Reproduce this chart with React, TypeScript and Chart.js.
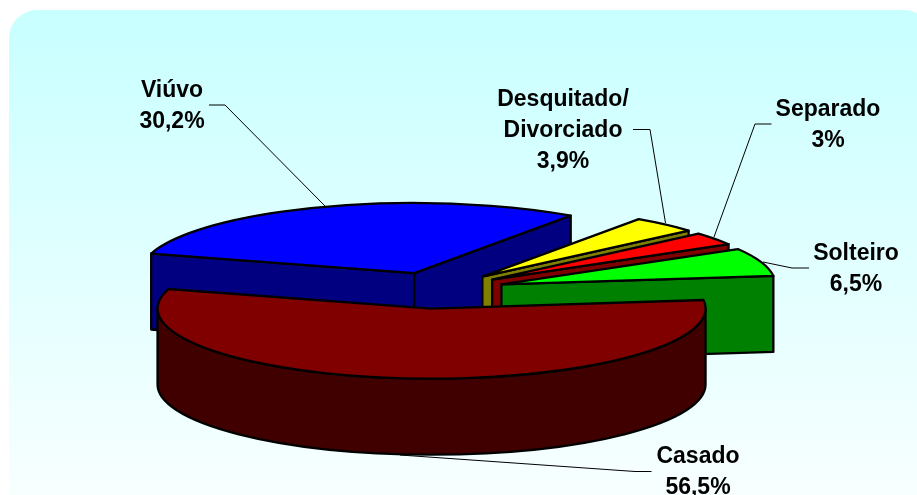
import React, { useEffect, useRef } from "react";
import { Chart, registerables } from "chart.js";

Chart.register(...registerables);

const categories = ["Casado", "Viúvo", "Desquitado/Divorciado", "Separado", "Solteiro"];
const shares = [56.5, 30.2, 3.9, 3, 6.5];
const topColors = ["#800000", "#0000ff", "#ffff00", "#ff0000", "#00ff00"];
const sideColors = ["#400000", "#000080", "#808000", "#800000", "#008000"];
const paintOrder = [1, 2, 3, 4, 0];

// Layout of the callouts, matched by category index
const labelCenters = [698, 172, 563, 828, 856];
const labelBaselines = [463, 97, 105.7, 115.7, 260];
const leaderPaths: number[][][] = [
  [[651.5, 471.5], [635, 471.5], [400, 455]],
  [[209, 105], [225, 105], [325, 206]],
  [[633, 129.5], [650, 129.5], [665.5, 223]],
  [[771.5, 124], [755, 124], [714, 237]],
  [[809, 268], [792, 268], [763, 262]],
];

const TILT = 0.2555;
const DEPTH = 76;
const EXPLODE_X = 68;
const EXPLODE_Y = 18.3;
const LINE_HEIGHT = 31;
const FONT = "bold 23px 'Liberation Sans', Arial, sans-serif";

const panelPlugin = {
  id: "panel",
  beforeDraw(chart: any) {
    const ctx = chart.ctx;
    const g = ctx.createLinearGradient(0, 10, 0, 495);
    g.addColorStop(0, "#c8ffff");
    g.addColorStop(1, "#f8ffff");
    ctx.save();
    ctx.fillStyle = g;
    ctx.beginPath();
    ctx.roundRect(9, 10, 923, 540, 28);
    ctx.fill();
    ctx.restore();
  },
};

const pie3dPlugin = {
  id: "pie3d",
  beforeDatasetDraw(chart: any) {
    const ctx: CanvasRenderingContext2D = chart.ctx;
    const meta = chart.getDatasetMeta(0);
    ctx.save();
    ctx.lineWidth = 2.3;
    ctx.lineJoin = "round";
    ctx.strokeStyle = "#000";
    for (const i of paintOrder) {
      const arc = meta.data[i];
      const a1: number = arc.startAngle;
      const a2: number = arc.endAngle;
      const r: number = arc.outerRadius;
      const mid = (a1 + a2) / 2;
      const cx = arc.x + Math.cos(mid) * EXPLODE_X;
      const cy = arc.y + Math.sin(mid) * EXPLODE_Y;
      const px = (a: number) => cx + r * Math.cos(a);
      const py = (a: number) => cy + r * TILT * Math.sin(a);
      ctx.fillStyle = sideColors[i];

      const cutFace = (a: number) => {
        ctx.beginPath();
        ctx.moveTo(cx, cy);
        ctx.lineTo(px(a), py(a));
        ctx.lineTo(px(a), py(a) + DEPTH);
        ctx.lineTo(cx, cy + DEPTH);
        ctx.closePath();
        ctx.fill();
        ctx.stroke();
      };
      if (Math.cos(a1) < 0) cutFace(a1);
      if (Math.cos(a2) > 0) cutFace(a2);

      const lo = Math.max(a1, 0);
      const hi = Math.min(a2, Math.PI);
      if (hi > lo) {
        ctx.beginPath();
        ctx.ellipse(cx, cy, r, r * TILT, 0, lo, hi);
        ctx.ellipse(cx, cy + DEPTH, r, r * TILT, 0, hi, lo, true);
        ctx.closePath();
        ctx.fill();
        ctx.stroke();
      }

      ctx.fillStyle = topColors[i];
      ctx.beginPath();
      ctx.moveTo(cx, cy);
      ctx.ellipse(cx, cy, r, r * TILT, 0, a1, a2);
      ctx.closePath();
      ctx.fill();
      ctx.stroke();
    }
    ctx.restore();
    return false;
  },
  afterDatasetsDraw(chart: any) {
    const ctx: CanvasRenderingContext2D = chart.ctx;
    ctx.save();
    ctx.strokeStyle = "#000";
    ctx.lineWidth = 1;
    for (const path of leaderPaths) {
      ctx.beginPath();
      path.forEach(([x, y], k) => (k ? ctx.lineTo(x, y) : ctx.moveTo(x, y)));
      ctx.stroke();
    }
    ctx.fillStyle = "#000";
    ctx.font = FONT;
    ctx.textAlign = "center";
    ctx.textBaseline = "alphabetic";
    categories.forEach((name, i) => {
      const lines = name.replace("/", "/\n").split("\n");
      lines.push(String(shares[i]).replace(".", ",") + "%");
      lines.forEach((t, k) => ctx.fillText(t, labelCenters[i], labelBaselines[i] + k * LINE_HEIGHT));
    });
    ctx.restore();
  },
};

export default function App() {
  const ref = useRef<HTMLCanvasElement>(null);
  useEffect(() => {
    document.body.style.margin = "0";
    const chart = new Chart(ref.current!, {
      type: "pie",
      data: {
        labels: categories,
        datasets: [{ data: shares, backgroundColor: topColors, borderColor: "#000", borderWidth: 0 }],
      },
      options: {
        responsive: false,
        animation: false,
        rotation: 83,
        radius: 274,
        layout: { padding: { top: 85.6, right: 43 } },
        plugins: { legend: { display: false }, tooltip: { enabled: false } },
      },
      plugins: [panelPlugin, pie3dPlugin],
    } as any);
    return () => chart.destroy();
  }, []);
  return (
    <div style={{ position: "fixed", left: 0, top: 0, width: 917, height: 495, background: "#fff" }}>
      <canvas ref={ref} width={917} height={495} style={{ display: "block" }} />
    </div>
  );
}
